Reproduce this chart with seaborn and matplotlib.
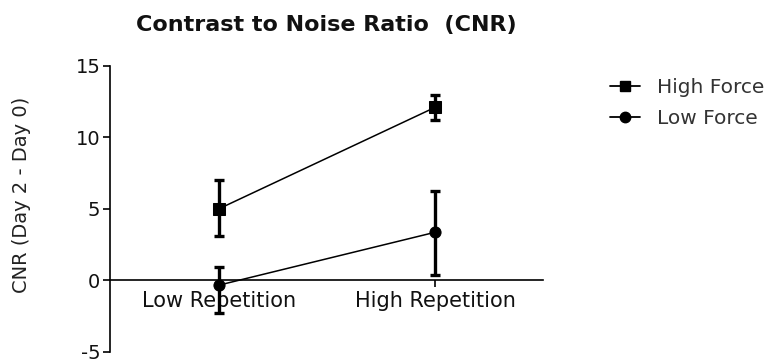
import matplotlib
matplotlib.use("Agg")
import matplotlib.pyplot as plt
from matplotlib.lines import Line2D
import seaborn as sns
import pandas as pd

# Mean CNR change (Day 2 - Day 0) per repetition level and force group
categories = ["Low Repetition", "High Repetition"]
groups = ["High Force", "Low Force"]
high_force_mean = [5.0, 12.1]
high_force_lower = [3.1, 11.2]
high_force_upper = [7.0, 13.0]
low_force_mean = [-0.35, 3.35]
low_force_lower = [-2.3, 0.35]
low_force_upper = [0.95, 6.25]
y_ticks = [-5, 0, 5, 10, 15]

sns.set_theme(style="white")
plt.rcParams["font.family"] = ["DejaVu Sans"]
plt.rcParams["axes.unicode_minus"] = False

df = pd.DataFrame({
    "Repetition": categories * 2,
    "CNR": high_force_mean + low_force_mean,
    "Group": [groups[0]] * 2 + [groups[1]] * 2,
})

fig = plt.figure(figsize=(7.74, 3.62), dpi=100)
ax = fig.add_axes([0.1421, 0.0290, 0.5594, 0.7887])

markers = {"High Force": "s", "Low Force": "o"}
sns.lineplot(data=df, x="Repetition", y="CNR", hue="Group", style="Group",
             markers=markers, dashes=False, palette=["black", "black"],
             linewidth=1.1, markersize=8, markeredgecolor="black",
             legend=False, ax=ax, sort=False)

# Error bars drawn from the same means
for means, lo, hi in [(high_force_mean, high_force_lower, high_force_upper),
                      (low_force_mean, low_force_lower, low_force_upper)]:
    yerr = [[m - l for m, l in zip(means, lo)], [h - m for m, h in zip(means, hi)]]
    ax.errorbar([0, 1], means, yerr=yerr, fmt="none", ecolor="black",
                elinewidth=2.4, capsize=3.8, capthick=2.4, zorder=3)

ax.set_xlim(-0.505, 1.5)
ax.set_ylim(-5, 15)
ax.set_yticks(y_ticks)
ax.set_xlabel("")
ax.set_ylabel("CNR (Day 2 - Day 0)", fontsize=14, color="#222222")
ax.yaxis.set_label_coords(-0.183, 0.55)

for side in ["top", "right"]:
    ax.spines[side].set_visible(False)
ax.spines["bottom"].set_position(("data", 0))
for side in ["left", "bottom"]:
    ax.spines[side].set_color("black")
    ax.spines[side].set_linewidth(1.2)

ax.tick_params(axis="y", direction="out", length=5, width=1.2, color="black",
               labelsize=14, left=True, pad=2, labelcolor="#111111")
ax.tick_params(axis="x", direction="out", length=5, width=1.2, color="black",
               labelsize=15, bottom=True, pad=3, labelcolor="#111111")

fig.text(0.421, 0.93, "Contrast to Noise Ratio  (CNR)", ha="center", va="center",
         fontsize=16, fontweight="bold", color="#111111")

handles = [Line2D([0], [0], color="black", marker=markers[g], markersize=7.5,
                  linewidth=1.3) for g in groups]
fig.legend(handles, groups, loc="upper left", bbox_to_anchor=(0.765, 0.835),
           frameon=False, fontsize=14.5, handlelength=1.5, handletextpad=0.8,
           labelspacing=0.6, labelcolor="#333333")

fig.savefig("out.png", dpi=100)
